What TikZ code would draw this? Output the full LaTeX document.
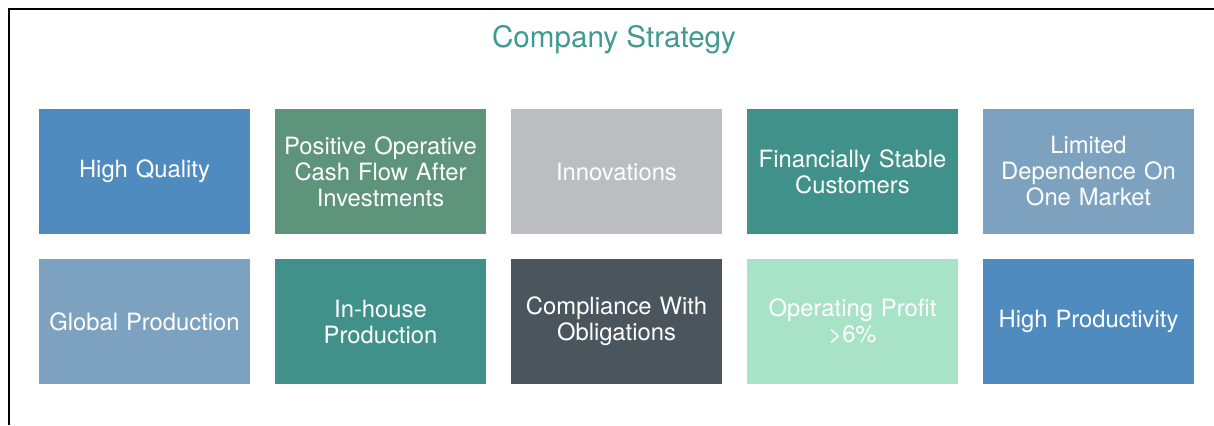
\documentclass[tikz,border=0pt]{standalone}
\usepackage{fontspec}
\setmainfont{TeX Gyre Heros}
\usetikzlibrary{calc}

\definecolor{qualityblue}{HTML}{4F8BBF}
\definecolor{cashgreen}{HTML}{5E947C}
\definecolor{innogray}{HTML}{BBBDC0}
\definecolor{stableteal}{HTML}{41918B}
\definecolor{marketblue}{HTML}{7CA2C0}
\definecolor{slatedark}{HTML}{4B555E}
\definecolor{profitmint}{HTML}{A8E2C7}
\definecolor{titleteal}{HTML}{3F9A92}

\tikzset{
    goal/.style={minimum width=105.5pt, minimum height=62.5pt, inner sep=0pt,
        text=white, align=center, font=\fontsize{11.9}{13}\selectfont, text width=102pt},
}

\begin{document}
\begin{tikzpicture}[x=0.5pt, y=-0.5pt]
    \useasboundingbox (0,0) rectangle (1214,425);

    % frame
    \coordinate (FL) at (8.5,425);
    \coordinate (FC) at (8.5,8.5);
    \coordinate (FR) at (1214,8.5);
    \draw[line width=1pt] (FL)--(FC)--(FR);

    % title
    \node[text=titleteal, font=\fontsize{14.8}{17}\selectfont] (title) at (614,40) {Company Strategy};

    % first row
    \node[goal, fill=qualityblue] (quality) at (144.5,171.5) {High Quality};
    \node[goal, fill=cashgreen] (cashflow) at (380.5,171.5) {Positive Operative\\Cash Flow After\\Investments};
    \node[goal, fill=innogray] (innovations) at (616.5,171.5) {Innovations};
    \node[goal, fill=stableteal] (customers) at (852.5,171.5) {Financially Stable\\Customers};
    \node[goal, fill=marketblue] (market) at (1088.5,171.5) {Limited\\Dependence On\\One Market};

    % second row
    \node[goal, fill=marketblue] (global) at (144.5,321.5) {Global Production};
    \node[goal, fill=stableteal] (inhouse) at (380.5,321.5) {In-house\\Production};
    \node[goal, fill=slatedark] (compliance) at (616.5,321.5) {Compliance With\\Obligations};
    \node[goal, fill=profitmint] (profit) at (852.5,321.5) {Operating Profit\\>6\%};
    \node[goal, fill=qualityblue] (productivity) at (1088.5,321.5) {High Productivity};
\end{tikzpicture}
\end{document}
